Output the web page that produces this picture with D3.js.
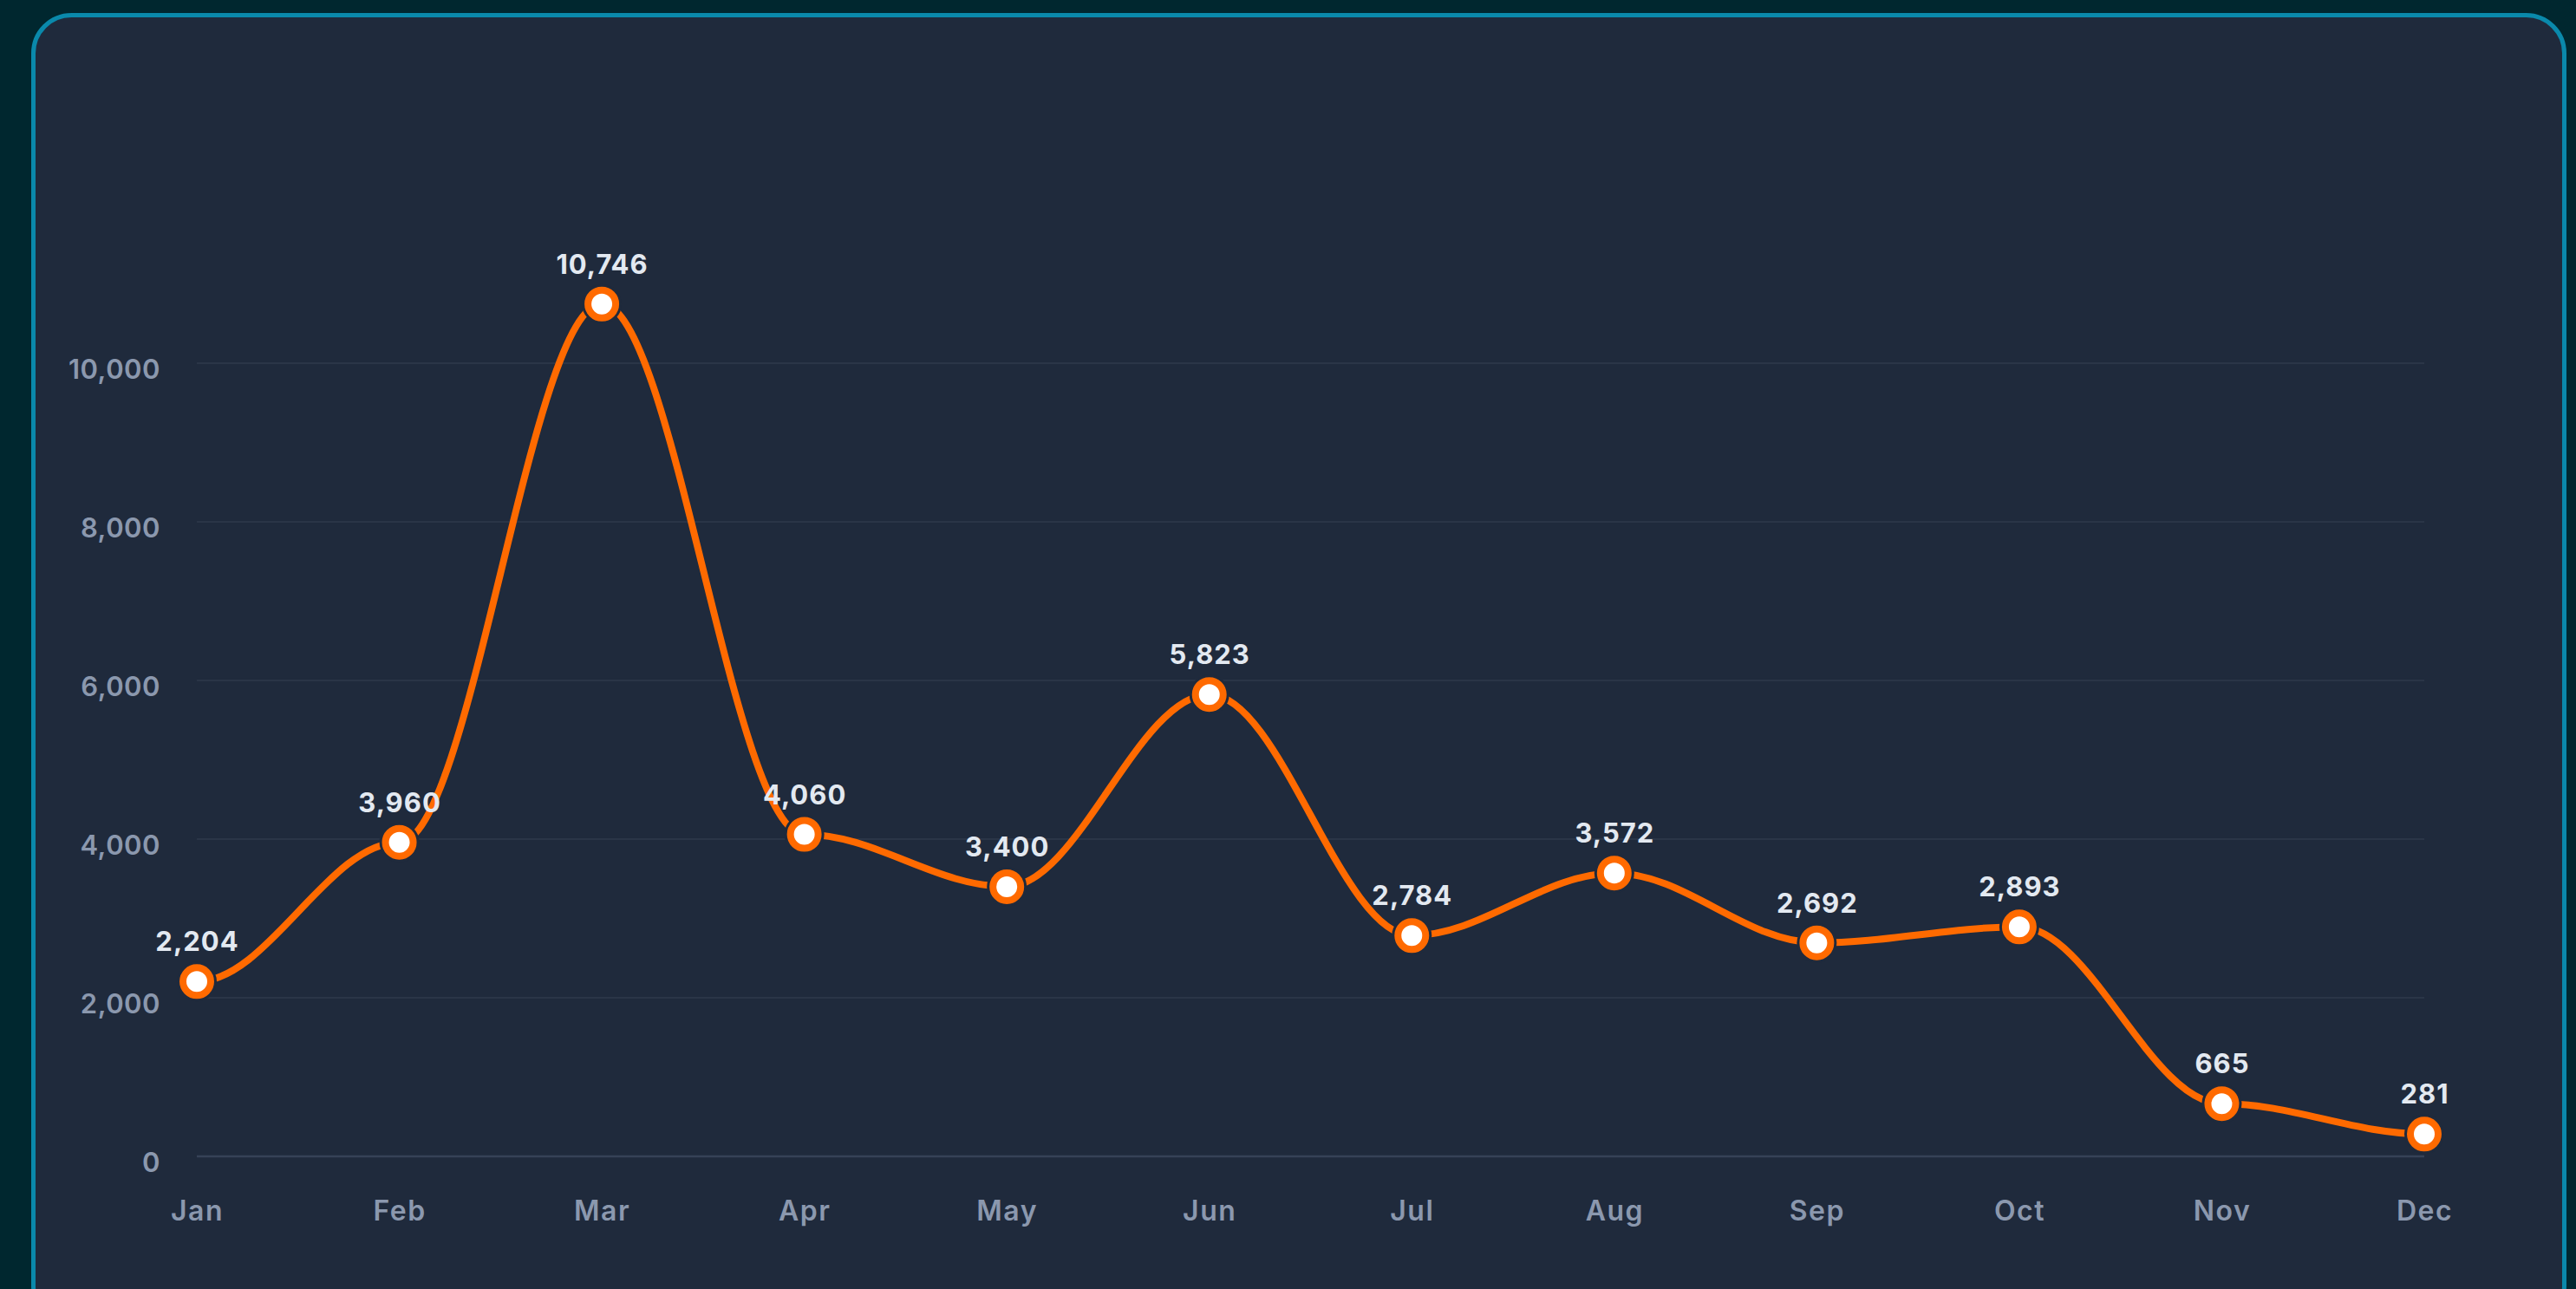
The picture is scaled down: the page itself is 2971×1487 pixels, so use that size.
<!DOCTYPE html>
<html>
<head>
<meta charset="utf-8">
<script src="https://cdn.jsdelivr.net/npm/d3@7"></script>
<style>
  html, body { margin: 0; padding: 0; background: #00272f; }
  svg { display: block; }
</style>
</head>
<body>
<div class="canva"></div>
<script>
const months = ["Jan", "Feb", "Mar", "Apr", "May", "Jun", "Jul", "Aug", "Sep", "Oct", "Nov", "Dec"];
const values = [2204, 3960, 10746, 4060, 3400, 5823, 2784, 3572, 2692, 2893, 665, 281];
const yTicks = [0, 2000, 4000, 6000, 8000, 10000];

const W = 2971, H = 1487;
const bg = "#1f2a3c";
const orange = "#ff6a00";
const font = "Inter, 'Open Sans', sans-serif";

// smooth curve: flat tangent at every point, handles at 35% of the step
function curveSmooth(context) {
  let x0, y0, started;
  return {
    areaStart() {}, areaEnd() {},
    lineStart() { started = false; },
    lineEnd() {},
    point(x, y) {
      x = +x; y = +y;
      if (!started) { context.moveTo(x, y); started = true; }
      else {
        const l = (x - x0) * 0.35;
        context.bezierCurveTo(x0 + l, y0, x - l, y, x, y);
      }
      x0 = x; y0 = y;
    }
  };
}

const svg = d3.select(".canva").append("svg")
    .attr("width", W)
    .attr("height", H);

// card
svg.append("rect")
    .attr("x", 38.5)
    .attr("y", 17.5)
    .attr("width", 2919)
    .attr("height", 1510)
    .attr("rx", 44)
    .attr("fill", bg)
    .attr("stroke", "#0a89ab")
    .attr("stroke-width", 5);

const x = d3.scalePoint()
    .domain(months)
    .range([227, 2796]);

const y = d3.scaleLinear()
    .domain([0, 12000])
    .range([1334, 1334 - 12000 * 0.0915]);

// grid
svg.append("g")
    .selectAll("line")
    .data(yTicks)
    .join("line")
    .attr("x1", 227)
    .attr("x2", 2796)
    .attr("y1", d => y(d))
    .attr("y2", d => y(d))
    .attr("stroke", d => d === 0 ? "#364257" : "#2a3547")
    .attr("stroke-width", d => d === 0 ? 2.5 : 2);

// y axis labels
const yAxis = svg.append("g")
    .attr("transform", "translate(185,0)")
    .call(d3.axisLeft(y).tickValues(yTicks).tickFormat(d3.format(",")).tickSize(0).tickPadding(0));
yAxis.select(".domain").remove();
yAxis.selectAll("text")
    .attr("fill", "#8b98ae")
    .attr("font-family", font)
    .attr("font-weight", 600)
    .attr("font-size", 31)
    .attr("letter-spacing", 0.5)
    .attr("dy", "0.55em")
    .attr("x", 0);

// x axis labels
const xAxis = svg.append("g")
    .attr("transform", "translate(0,1408)")
    .call(d3.axisBottom(x).tickSize(0).tickPadding(0));
xAxis.select(".domain").remove();
xAxis.selectAll("text")
    .attr("fill", "#8b98ae")
    .attr("font-family", font)
    .attr("font-weight", 600)
    .attr("font-size", 32)
    .attr("letter-spacing", 1.5)
    .attr("dy", 0)
    .attr("y", 0);

// line
const line = d3.line()
    .x((d, i) => x(months[i]))
    .y(d => y(d))
    .curve(curveSmooth);

svg.append("path")
    .datum(values)
    .attr("d", line)
    .attr("fill", "none")
    .attr("stroke", orange)
    .attr("stroke-width", 8)
    .attr("stroke-linecap", "round");

// markers
const pts = svg.append("g")
    .selectAll("g")
    .data(values)
    .join("g")
    .attr("transform", (d, i) => `translate(${x(months[i])},${y(d)})`);

pts.append("circle")
    .attr("r", 23)
    .attr("fill", bg);

pts.append("circle")
    .attr("r", 16)
    .attr("fill", "#ffffff")
    .attr("stroke", orange)
    .attr("stroke-width", 8);

// value labels
pts.append("text")
    .text(d => d3.format(",")(d))
    .attr("text-anchor", "middle")
    .attr("y", -35)
    .attr("fill", "#e3e9f1")
    .attr("font-family", font)
    .attr("font-weight", 700)
    .attr("font-size", 31)
    .attr("letter-spacing", 1)
    .attr("dx", 0.5);
</script>
</body>
</html>
